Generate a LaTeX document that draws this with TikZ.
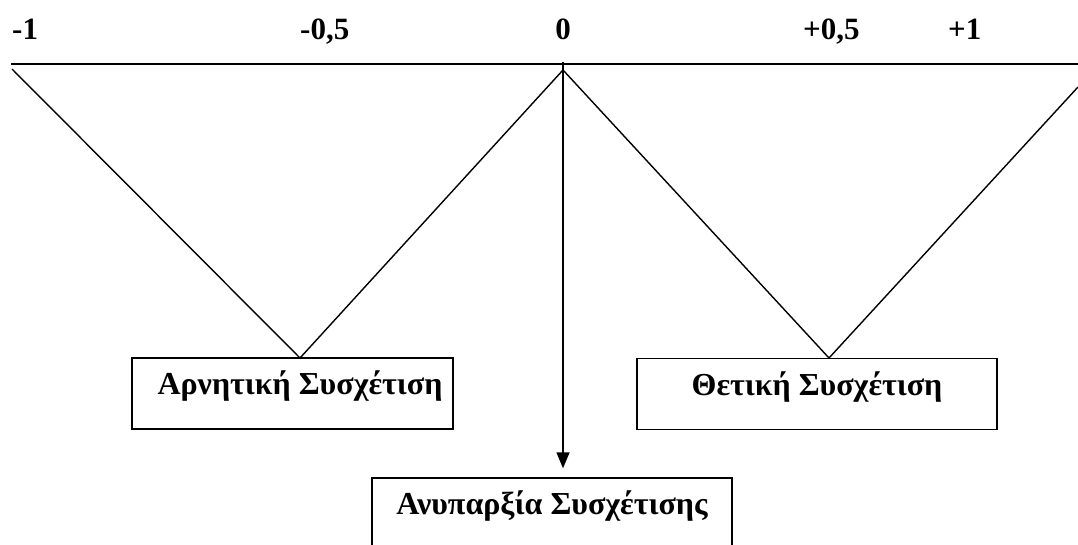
\documentclass[tikz,border=0pt]{standalone}
\usepackage{fontspec}
\setmainfont{Liberation Serif}
\usetikzlibrary{arrows.meta}
\begin{document}
\begin{tikzpicture}[x=1pt,y=-1pt,
  lbl/.style={anchor=base west,inner sep=0pt,font=\fontsize{31}{36}\selectfont\bfseries},
  box/.style={draw,line width=1.4pt,inner sep=0pt,text height=0.7em,text depth=0.467em,
    minimum height=71pt,font=\fontsize{32}{38}\selectfont\bfseries},
  ln/.style={line width=1.4pt},
  arr/.style={line width=1.4pt,-{Triangle[length=16pt,width=13pt]}}]
\useasboundingbox (0,0) rectangle (1078,544);
% axis labels
\node[lbl] (m1) at (12,39) {-1};
\node[lbl] (m05) at (300,39) {-0,5};
\node[lbl,anchor=base] (z) at (563,39) {0};
\node[lbl] (p05) at (803,39) {+0,5};
\node[lbl] (p1) at (948,39) {+1};
% axis line
\coordinate (axl) at (11,64);
\coordinate (axr) at (1078,64);
\draw[line width=1.6pt] (axl) -- (axr);
% boxes
\node[box,minimum width=321pt] (nl) at (292.5,393.5) {\hspace*{15pt}Αρνητική Συσχέτιση};
\node[box,minimum width=360pt] (nr) at (817,394) {Θετική Συσχέτιση};
\node[box,minimum width=360pt] (nb) at (552,513.5) {Ανυπαρξία Συσχέτισης};
% V lines
\coordinate (lt) at (12,69);
\coordinate (ap) at (563,70);
\coordinate (rt) at (1078,87);
\coordinate (t0) at (563,62);
\coordinate (vl) at (300,358);
\coordinate (vr) at (829,358);
\draw[ln] (lt) -- (vl) -- (ap) -- (vr) -- (rt);
% arrow
\draw[arr,shorten >=9pt] (t0) -- (t0 |- nb.north);
\end{tikzpicture}
\end{document}
